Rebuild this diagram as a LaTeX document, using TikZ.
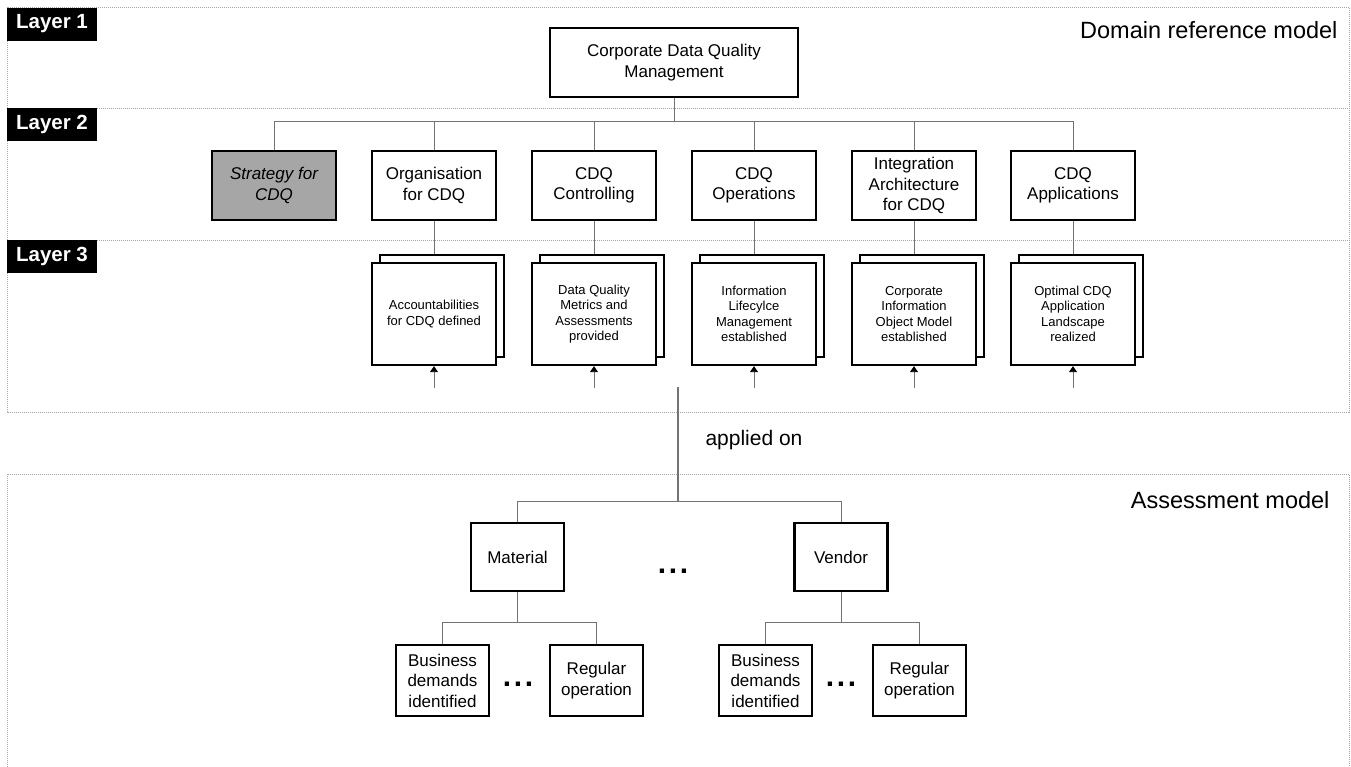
\documentclass[tikz,border=0pt]{standalone}
\usepackage{fontspec}
\setmainfont{Liberation Sans}
\usetikzlibrary{arrows.meta,positioning}
\definecolor{linegray}{gray}{0.45}
\definecolor{framegray}{gray}{0.65}
\definecolor{stratgray}{HTML}{A6A6A6}
\newcommand{\ellipsisdots}{.\hspace{2.7pt}.\hspace{2.7pt}.}
\begin{document}
\begin{tikzpicture}[x=1pt,y=-1pt,
    frame/.style={framegray,line width=0.6pt,dash pattern=on 1pt off 1pt},
    layerlbl/.style={fill=black,text=white,font=\fontsize{20.5}{22}\selectfont\bfseries,minimum width=90,minimum height=33,inner sep=0pt},
    title/.style={anchor=east,font=\fontsize{23.5}{26}\selectfont},
    box/.style={draw=black,line width=2.3pt,fill=white,align=center,inner sep=2pt,font=\fontsize{17}{20.5}\selectfont},
    topbox/.style={box,minimum width=248,minimum height=69},
    ltwobox/.style={box,minimum width=124,minimum height=69},
    lthreebox/.style={box,minimum width=124,minimum height=102,font=\fontsize{13}{15.5}\selectfont},
    amodel/.style={box,minimum width=93,minimum height=68},
    leafbox/.style={box,minimum width=93,minimum height=71},
    conn/.style={linegray,line width=0.9pt},
    feed/.style={conn,-{Triangle[length=6pt,width=8pt,color=black]}},
    dots/.style={font=\fontsize{30}{32}\selectfont\bfseries,inner sep=0pt}]
  \useasboundingbox (0,0) rectangle (1351,766);

  \draw[frame] (7,7) rectangle (1349,412);
  \draw[frame] (7,108) -- (1349,108);
  \draw[frame] (7,240) -- (1349,240);
  \draw[frame] (7,474) rectangle (1349,790);

  \node[layerlbl] (lay1) at (52,24) {Layer 1};
  \node[layerlbl] (lay2) at (52,124.5) {Layer 2};
  \node[layerlbl] (lay3) at (52,256.5) {Layer 3};
  \node[title] (domtitle) at (1341,30) {Domain reference model};
  \node[title] (asmtitle) at (1333,500) {Assessment model};

  \node[topbox] (cdqm) at (674,62.5) {Corporate Data Quality\\Management};

  \node[ltwobox,fill=stratgray,font=\fontsize{17}{20.5}\selectfont\itshape] (strat) at (274,185.5) {Strategy for\\CDQ};
  \node[ltwobox] (org) at (434,185.5) {Organisation\\for CDQ};
  \node[ltwobox] (ctrl) at (594,185.5) {CDQ\\Controlling};
  \node[ltwobox] (ops) at (754,185.5) {CDQ\\Operations};
  \node[ltwobox] (integ) at (914,185.5) {Integration\\Architecture\\for CDQ};
  \node[ltwobox] (apps) at (1073,185.5) {CDQ\\Applications};

  \coordinate (bus) at (674,121);
  \draw[conn] (cdqm) -- (bus);
  \foreach \n in {strat,org,ctrl,ops,integ,apps}
    \draw[conn] (bus) -| (\n.north);

  \node[lthreebox] (accb) at (442,306) {};
  \node[lthreebox] (acc) at (434,314) {Accountabilities\\for CDQ defined};
  \node[lthreebox] (metb) at (602,306) {};
  \node[lthreebox] (met) at (594,314) {Data Quality\\Metrics and\\Assessments\\provided};
  \node[lthreebox] (ilmb) at (762,306) {};
  \node[lthreebox] (ilm) at (754,314) {Information\\Lifecylce\\Management\\established};
  \node[lthreebox] (ciomb) at (922,306) {};
  \node[lthreebox] (ciom) at (914,314) {Corporate\\Information\\Object Model\\established};
  \node[lthreebox] (landb) at (1081,306) {};
  \node[lthreebox] (land) at (1073,314) {Optimal CDQ\\Application\\Landscape\\realized};

  \foreach \up/\lo/\back in {org/acc/accb,ctrl/met/metb,ops/ilm/ilmb,integ/ciom/ciomb,apps/land/landb} {
    \draw[conn] (\up.south) -- (\up.south |- \back.north);
    \coordinate (\lo-in) at ([yshift=-22pt]\lo.south);
    \draw[feed] (\lo-in) -- (\lo.south);
  }

  \coordinate (appltop) at (678,387);
  \coordinate (asmbus) at (678,501);
  \draw[linegray,line width=1.3pt] (appltop) -- (asmbus);
  \node[font=\fontsize{21}{24}\selectfont] (applied) at (754,440) {applied on};

  \node[amodel] (mat) at (517.5,557) {Material};
  \node[amodel] (ven) at (841,557) {Vendor};
  \node[dots] (matvendots) at (673,571) {\ellipsisdots};
  \draw[conn] (asmbus) -| (mat.north);
  \draw[conn] (asmbus) -| (ven.north);

  \node[leafbox] (matbd) at (442.5,680.5) {Business\\demands\\identified};
  \node[leafbox] (matreg) at (596.5,680.5) {Regular\\operation};
  \node[dots] (matdots) at (518,684) {\ellipsisdots};
  \node[leafbox] (venbd) at (765.5,680.5) {Business\\demands\\identified};
  \node[leafbox] (venreg) at (919.5,680.5) {Regular\\operation};
  \node[dots] (vendots) at (841,684) {\ellipsisdots};

  \coordinate (matbus) at (517.5,622);
  \coordinate (venbus) at (841,622);
  \draw[conn] (mat) -- (matbus);
  \draw[conn] (matbus) -| (matbd.north);
  \draw[conn] (matbus) -| (matreg.north);
  \draw[conn] (ven) -- (venbus);
  \draw[conn] (venbus) -| (venbd.north);
  \draw[conn] (venbus) -| (venreg.north);
\end{tikzpicture}
\end{document}
